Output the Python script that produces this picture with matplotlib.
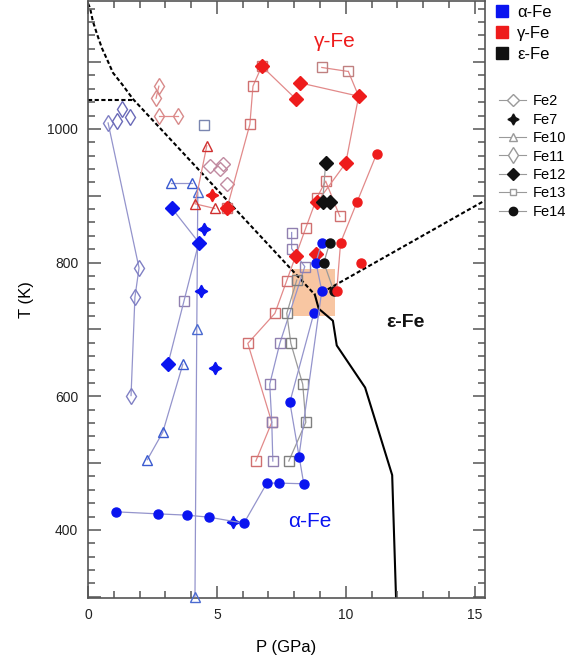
import numpy as np
import matplotlib.pyplot as plt
from matplotlib.lines import Line2D
from matplotlib.patches import Rectangle
from matplotlib.ticker import MultipleLocator

plt.rcParams['font.family'] = ['Liberation Sans', 'DejaVu Sans']

BLUE = '#0a14f0'
RED = '#ee1c1c'
BLACK = '#111111'
LBLUE = '#9494cc'   # line colour of alpha runs
LRED = '#e28a8a'    # line colour of gamma runs
GREY = '#9a9a9a'

# phase boundaries
ag_P = [0.0, 0.08, 0.19, 0.35, 0.54, 0.74, 0.97, 1.32, 1.74, 8.8]
ag_T = [1188, 1181, 1161, 1142, 1121, 1104, 1084, 1067, 1045, 752]
ag_flat_P = [0.0, 1.74]
ag_flat_T = [1044, 1044]
ge_P = [9.3, 15.4]
ge_T = [760, 893]
ae_P = [8.8, 8.95, 9.5, 9.65, 10.75, 11.8, 11.95]
ae_T = [752, 731, 713, 676, 613, 482, 298]
box_P = [7.9, 9.6]
box_T = [720, 790]

# Fe11 (thin open diamonds)
fe11a_P = [0.78, 1.98, 1.82, 1.67]
fe11a_T = [1009, 792, 748, 601]
fe11b_P = [1.12, 1.32, 1.63]
fe11b_T = [1012, 1030, 1018]
fe11c_P = [2.75, 2.64]
fe11c_T = [1064, 1046]
fe11d_P = [2.75, 3.49]
fe11d_T = [1019, 1019]

# Fe10 (open triangles)
fe10a_P = [3.22, 4.03]
fe10a_T = [919, 919]
fe10b_P = [4.26, 4.22, 4.15]
fe10b_T = [905, 700, 300]
fe10c_P = [4.61, 4.15, 4.92]
fe10c_T = [975, 888, 881]
fe10d_P = [3.68, 2.9, 2.3]
fe10d_T = [648, 546, 505]

# Fe2 (open diamonds)
fe2_P = [4.73, 5.23, 5.12, 5.39]
fe2_T = [945, 948, 940, 918]

# Fe7 (filled stars)
fe7a_P = [4.5, 4.38, 4.92, 5.62]
fe7a_T = [851, 758, 642, 412]
fe7b_P = [4.8]
fe7b_T = [901]

# Fe12 (filled diamonds)
fe12a_P = [3.26, 4.30, 3.10]
fe12a_T = [881, 830, 648]
fe12b_P = [5.39]
fe12b_T = [881]
fe12c_P = [6.74, 8.06]
fe12c_T = [1094, 1045]
fe12d_P = [8.22, 10.5, 10.0, 8.88]
fe12d_T = [1069, 1049, 949, 890]
fe12e_P = [8.06, 8.84]
fe12e_T = [810, 813]
fe12f_P = [9.22, 9.1, 9.4]
fe12f_T = [949, 890, 890]

# Fe13 (open squares)
fe13a_P = [4.50]
fe13a_T = [1006]
fe13b_P = [5.39, 6.28, 6.40, 6.74]
fe13b_T = [881, 1007, 1064, 1094]
fe13c_P = [9.77, 9.22, 8.88, 8.45, 7.71, 7.25, 6.2, 7.13, 6.51]
fe13c_T = [869, 922, 897, 852, 773, 724, 679, 561, 503]
fe13d_P = [7.9, 7.9, 8.41, 7.44, 7.05, 7.13, 7.17]
fe13d_T = [845, 821, 794, 679, 618, 561, 503]
fe13e_P = [8.1, 7.71, 7.87, 8.33, 8.45, 7.79]
fe13e_T = [774, 724, 679, 618, 561, 503]
fe13f_P = [3.72]
fe13f_T = [742]
fe13g_P = [9.07, 10.1, 10.5]
fe13g_T = [1092, 1086, 1049]

# Fe14 (filled circles)
fe14a_P = [1.09, 2.7, 3.84, 4.69, 6.05, 6.94, 7.40, 8.37, 7.83, 8.76]
fe14a_T = [427, 424, 422, 419, 410, 470, 470, 469, 591, 724]
fe14b_P = [8.18, 9.07, 8.84, 9.07]
fe14b_T = [509, 758, 800, 830]
fe14c_P = [9.53, 9.15, 9.38]
fe14c_T = [758, 800, 830]
fe14d_P = [11.2, 10.43, 9.8, 9.65]
fe14d_T = [963, 890, 830, 758]
fe14e_P = [10.6]
fe14e_T = [800]

fig = plt.figure(figsize=(5.74, 6.63), dpi=100)
ax = fig.add_axes([0.1533, 0.098, 0.6916, 0.900])

ax.add_patch(Rectangle((box_P[0], box_T[0]), box_P[1] - box_P[0], box_T[1] - box_T[0],
                       facecolor='#f8c6a2', edgecolor='none', zorder=0))
ax.plot(ag_P, ag_T, color='black', ls=(0, (2, 1.2)), lw=1.5, zorder=1)
ax.plot(ag_flat_P, ag_flat_T, color='black', ls=(0, (2, 1.2)), lw=1.5, zorder=1)
ax.plot(ge_P, ge_T, color='black', ls=(0, (2, 1.2)), lw=1.5, zorder=1)
ax.plot(ae_P, ae_T, color='black', lw=1.5, zorder=1)


def run(P, T, marker, ms, line, edge, face='none', mew=1.0):
    ax.plot(P, T, color=line, lw=0.9, marker=marker, ms=ms, mec=edge, mfc=face,
            mew=mew, zorder=3, clip_on=False)


star = (4, 1, 0)
run(fe11a_P, fe11a_T, 'd', 8, LBLUE, '#8080c4')
run(fe11b_P, fe11b_T, 'd', 8, 'none', '#6a6ab8')
run(fe11c_P, fe11c_T, 'd', 8, LRED, '#d88a8a')
run(fe11d_P, fe11d_T, 'd', 8, LRED, '#d88a8a')

run(fe10a_P, fe10a_T, '^', 7.5, LBLUE, '#3a5ad0')
run(fe10b_P, fe10b_T, '^', 7.5, LBLUE, '#4a6ad0')
run(fe10c_P, fe10c_T, '^', 7.5, LRED, '#d03030')
run(fe10d_P, fe10d_T, '^', 7.5, LBLUE, '#3a5ad0')

run(fe2_P, fe2_T, 'D', 7, 'none', '#c08aa0')

run(fe13a_P, fe13a_T, 's', 7, 'none', '#7a86b0')
run(fe13b_P, fe13b_T, 's', 7, LRED, '#d07070')
run(fe13c_P, fe13c_T, 's', 7, LRED, '#d07070')
run(fe13d_P, fe13d_T, 's', 7, LBLUE, '#9080b0')
run(fe13e_P, fe13e_T, 's', 7, GREY, '#808080')
run(fe13f_P, fe13f_T, 's', 7, 'none', '#9080b0')
run(fe13g_P[:2], fe13g_T[:2], 's', 7, LRED, '#c08080')
ax.plot(fe13g_P[1:], fe13g_T[1:], color=LRED, lw=0.9, zorder=2)

run(fe7a_P, fe7a_T, star, 9, 'none', BLUE, BLUE)
run(fe7b_P, fe7b_T, star, 9, 'none', RED, RED)

run(fe12a_P, fe12a_T, 'D', 7.5, LBLUE, BLUE, BLUE)
run(fe12b_P, fe12b_T, 'D', 7.5, 'none', RED, RED)
run(fe12c_P, fe12c_T, 'D', 7.5, LRED, RED, RED)
run(fe12d_P, fe12d_T, 'D', 7.5, LRED, RED, RED)
run(fe12e_P, fe12e_T, 'D', 7.5, 'none', RED, RED)
run(fe12f_P, fe12f_T, 'D', 7.5, GREY, BLACK, BLACK)

run(fe14a_P, fe14a_T, 'o', 6.5, LBLUE, BLUE, BLUE)
run(fe14b_P, fe14b_T, 'o', 6.5, LBLUE, BLUE, BLUE)
run(fe14c_P, fe14c_T, 'o', 6.5, GREY, BLACK, BLACK)
run(fe14d_P, fe14d_T, 'o', 6.5, LRED, RED, RED)
run(fe14e_P, fe14e_T, 'o', 6.5, 'none', RED, RED)

ax.text(9.57, 1131, 'γ-Fe', color=RED, fontsize=15, ha='center', va='center')
ax.text(12.3, 710, 'ε-Fe', color=BLACK, fontsize=14, fontweight='bold', ha='center', va='center')
ax.text(8.6, 412, 'α-Fe', color=BLUE, fontsize=15, ha='center', va='center')

ax.set_xlim(0, 15.4)
ax.set_ylim(298, 1191)
ax.set_xticks([0, 5, 10, 15])
ax.xaxis.set_minor_locator(MultipleLocator(1))
ax.set_yticks(np.arange(300, 1200, 100))
ax.set_yticklabels(['' if v % 200 else str(v) for v in range(300, 1200, 100)])
ax.yaxis.set_minor_locator(MultipleLocator(20))
ax.tick_params(which='both', direction='in', top=True, right=True, color='#555555',
               labelsize=10, labelcolor='#222222', pad=7)
ax.tick_params(which='major', length=9, width=1.1)
ax.tick_params(which='minor', length=5, width=1.1)
for s in ax.spines.values():
    s.set_color('#555555')
    s.set_linewidth(1.2)
ax.set_xlabel('P (GPa)', fontsize=12, labelpad=13)
ax.set_ylabel('T (K)', fontsize=12, labelpad=10)

phase_handles = [Line2D([], [], ls='none', marker='s', ms=8, color=c) for c in (BLUE, RED, BLACK)]
leg1 = ax.legend(phase_handles, ['α-Fe', 'γ-Fe', 'ε-Fe'], loc='upper left',
                 bbox_to_anchor=(0.855, 1.0), bbox_transform=fig.transFigure, frameon=False,
                 fontsize=12, handlelength=0.8, handletextpad=0.5, labelspacing=0.35,
                 borderaxespad=0, borderpad=0.3)
ax.add_artist(leg1)

run_handles = [
    Line2D([], [], color=GREY, lw=0.8, marker='D', ms=6, mfc='white', mec=GREY),
    Line2D([], [], color='none', marker=star, ms=8, mfc=BLACK, mec=BLACK),
    Line2D([], [], color=GREY, lw=0.8, marker='^', ms=6, mfc='white', mec=GREY),
    Line2D([], [], color=GREY, lw=0.8, marker='d', ms=8, mfc='white', mec=GREY),
    Line2D([], [], color=GREY, lw=0.8, marker='D', ms=6, mfc=BLACK, mec=BLACK),
    Line2D([], [], color=GREY, lw=0.8, marker='s', ms=5, mfc='white', mec=GREY),
    Line2D([], [], color=GREY, lw=0.8, marker='o', ms=6, mfc=BLACK, mec=BLACK),
]
ax.legend(run_handles, ['Fe2', 'Fe7', 'Fe10', 'Fe11', 'Fe12', 'Fe13', 'Fe14'], loc='upper left',
          bbox_to_anchor=(0.865, 0.862), bbox_transform=fig.transFigure, frameon=False,
          fontsize=10.5, handlelength=1.8, handletextpad=0.5, labelspacing=0.3,
          borderaxespad=0, borderpad=0.2)

fig.savefig('out.png', dpi=100)
